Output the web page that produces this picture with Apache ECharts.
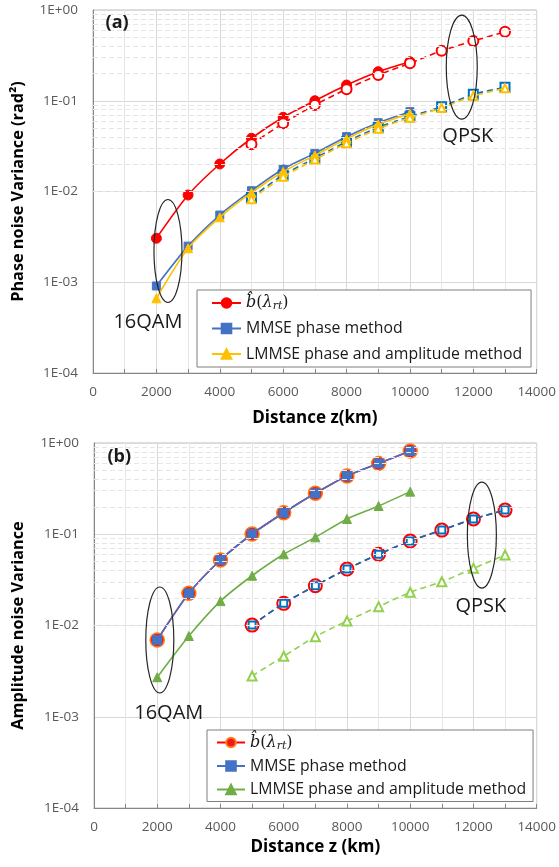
<!DOCTYPE html>
<html><head><meta charset="utf-8">
<script src="https://cdn.jsdelivr.net/npm/echarts@6/dist/echarts.min.js"></script>
<style>html,body{margin:0;padding:0;background:#fff}#c{width:559px;height:867px}</style>
</head><body><div id="c"></div>
<script>
// ---- data ----
const xQAM  = [2000,3000,4000,5000,6000,7000,8000,9000,10000];
const xQPSK = [5000,6000,7000,8000,9000,10000,11000,12000,13000];
const xTicks = [0,2000,4000,6000,8000,10000,12000,14000];
const yTickLabels = ['1E-04','1E-03','1E-02','1E-01','1E+00'];

// (a) phase noise variance
const phaseB_QAM      = [0.00305,0.00915,0.0201,0.0386,0.0657,0.100,0.149,0.209,0.269];
const phaseB_QPSK     = [0.0331,0.0564,0.0898,0.134,0.192,0.259,0.356,0.455,0.577];
const phaseMMSE_QAM   = [0.00091,0.0025,0.0055,0.0102,0.0177,0.0263,0.0402,0.0573,0.0758];
const phaseMMSE_QPSK  = [0.0086,0.0152,0.0232,0.0354,0.0509,0.0667,0.0860,0.1178,0.1406];
const phaseLMMSE_QAM  = [0.000665,0.00237,0.00519,0.0097,0.0165,0.0250,0.0380,0.0550,0.0720];
const phaseLMMSE_QPSK = [0.0082,0.0145,0.0225,0.0340,0.0490,0.0650,0.0830,0.1130,0.1370];

// (b) amplitude noise variance
const ampB_QAM      = [0.00694,0.0225,0.0522,0.1006,0.172,0.281,0.435,0.598,0.817];
const ampMMSE_QAM   = [0.00694,0.0225,0.0522,0.1006,0.172,0.281,0.435,0.598,0.817];
const ampLMMSE_QAM  = [0.00271,0.00767,0.0185,0.0351,0.0603,0.0925,0.147,0.204,0.293];
const ampB_QPSK     = [0.0101,0.0175,0.0273,0.0416,0.0603,0.0843,0.111,0.147,0.184];
const ampMMSE_QPSK  = [0.0101,0.0175,0.0273,0.0416,0.0603,0.0843,0.111,0.147,0.184];
const ampLMMSE_QPSK = [0.0028,0.0046,0.00755,0.0112,0.0161,0.0231,0.0302,0.0423,0.0593];

const legendNames = {
  bA:'bhat', mA:'MMSE phase method', lA:'LMMSE phase and amplitude method',
  bB:'bhat', mB:'MMSE phase method', lB:'LMMSE phase and amplitude method'
};

// ---- helpers ----
const pair = (xs, ys) => xs.map((x,i)=>[x, ys[i]]);
const minorVals = [];
for (let d=-4; d<0; d++) for (let k=2;k<=9;k++) minorVals.push(k*Math.pow(10,d));

const TXT = '#595959';
const FONT = 'Open Sans';

function xAxis(gi){
  return {
    type:'value', gridIndex:gi, min:0, max:14000, interval:2000,
    name: gi===0 ? 'Distance z(km)' : 'Distance z (km)',
    nameLocation:'middle', nameGap: gi===0 ? 37 : 31,
    nameTextStyle:{fontFamily:FONT, fontWeight:'bold', fontSize:17, color:'#000'},
    axisLine:{show:true, lineStyle:{color:'#868686', width:1}},
    axisTick:{show:true, inside:true, length:4, lineStyle:{color:'#868686'}},
    minorTick:{show:true, splitNumber:2, length:4, lineStyle:{color:'#868686'}},
    axisLabel:{fontFamily:FONT, fontSize:13.5, color:TXT, margin:12,
      formatter: v => xTicks.includes(v) ? String(v) : ''},
    splitLine:{show:true, lineStyle:{color:'#d9d9d9', width:1}},
    minorSplitLine:{show:true, lineStyle:{color:'#e6e6e6', width:1}}
  };
}
function yAxis(gi){
  return {
    type:'log', logBase:10, gridIndex:gi, min:1e-4, max:1,
    axisLine:{show:true, lineStyle:{color:'#868686', width:1}},
    axisTick:{show:false},
    axisLabel:{fontFamily:FONT, fontSize:13.5, color:TXT, margin:15,
      formatter: v => yTickLabels[Math.round(Math.log10(v))+4]},
    splitLine:{show:true, lineStyle:{color:'#d9d9d9', width:1}}
  };
}
function minorGrid(gi){
  return {
    type:'line', xAxisIndex:gi, yAxisIndex:gi, data:[], z:1, silent:true,
    markLine:{silent:true, symbol:['none','none'], label:{show:false}, animation:false,
      lineStyle:{color:'#e6e6e6', type:[5,3], width:1},
      emphasis:{disabled:true},
      data: minorVals.map(v=>({yAxis:v}))}
  };
}
function ser(name, gi, data, o){
  return {
    name, type:'line', xAxisIndex:gi, yAxisIndex:gi, data,
    smooth:0.25, symbol:o.symbol, symbolSize:o.size,
    lineStyle:{color:o.line, width:o.lw||1.6, type:o.dash?[6,4]:'solid'},
    itemStyle:{color:o.fill, borderColor:o.border||o.fill, borderWidth:o.bw||1},
    z:o.z||3, emphasis:{disabled:true}
  };
}

const RED='#ff0000', BLUE='#4472c4', BLUE2='#0070c0', YEL='#ffc000', GRN='#70ad47', GRN2='#92d050';

const series = [
  minorGrid(0), minorGrid(1),
  // (a)
  ser('bA',0,pair(xQAM,phaseB_QAM),{symbol:'circle',size:10,line:RED,fill:RED,z:3}),
  ser('bA_q',0,pair(xQPSK,phaseB_QPSK),{symbol:'emptyCircle',size:10,line:RED,fill:RED,border:RED,bw:1.6,dash:true,z:3}),
  ser('mA',0,pair(xQAM,phaseMMSE_QAM),{symbol:'rect',size:8,line:BLUE,fill:BLUE,z:4}),
  ser('mA_q',0,pair(xQPSK,phaseMMSE_QPSK),{symbol:'emptyRect',size:9,line:BLUE2,fill:BLUE2,border:BLUE2,bw:1.6,dash:true,z:4}),
  ser('lA',0,pair(xQAM,phaseLMMSE_QAM),{symbol:'triangle',size:9,line:YEL,fill:YEL,z:5}),
  ser('lA_q',0,pair(xQPSK,phaseLMMSE_QPSK),{symbol:'emptyTriangle',size:8,line:YEL,fill:YEL,border:YEL,bw:1.6,dash:true,z:5}),
  // (b)
  ser('bB',1,pair(xQAM,ampB_QAM),{symbol:'circle',size:14,line:RED,fill:'#f01818',border:'#ff7a1a',bw:1.5,z:3}),
  ser('bB_q',1,pair(xQPSK,ampB_QPSK),{symbol:'emptyCircle',size:13,line:RED,fill:RED,border:RED,bw:2,dash:true,z:3}),
  ser('mB',1,pair(xQAM,ampMMSE_QAM),{symbol:'rect',size:9,line:BLUE,fill:BLUE,z:4}),
  ser('mB_q',1,pair(xQPSK,ampMMSE_QPSK),{symbol:'emptyRect',size:7,line:BLUE2,fill:BLUE2,border:BLUE2,bw:1.5,dash:true,z:4}),
  ser('lB',1,pair(xQAM,ampLMMSE_QAM),{symbol:'triangle',size:9,line:GRN,fill:GRN,z:5}),
  ser('lB_q',1,pair(xQPSK,ampLMMSE_QPSK),{symbol:'emptyTriangle',size:9,line:GRN2,fill:GRN2,border:GRN2,bw:1.5,dash:true,z:5})
];

const richLegend = {
  n:{fontFamily:FONT, fontSize:15.8, color:'#1a1a1a', lineHeight:18},
  m:{fontFamily:'DejaVu Serif', fontStyle:'italic', fontSize:16, color:'#1a1a1a', lineHeight:18},
  u:{fontFamily:'DejaVu Serif', fontSize:16, color:'#1a1a1a', lineHeight:18},
  s:{fontFamily:'DejaVu Serif', fontStyle:'italic', fontSize:11, color:'#1a1a1a', lineHeight:12, verticalAlign:'bottom'}
};
const legendFmt = name => {
  const t = legendNames[name];
  if (t === 'bhat') return '{m|b\u0302}{u|(}{m|\u03bb}{s|rt}{u|)}';
  return '{n|' + t + '}';
};
function legend(gi){
  const top = gi===0;
  return {
    orient:'vertical', left: top?197:207, top: top?290:730,
    data: top?['bA','mA','lA']:['bB','mB','lB'],
    formatter: legendFmt, selectedMode:false,
    itemWidth: top?29:28, itemHeight:12, itemGap: top?7.5:5.5,
    padding: top?[4,9,4,14]:[3.5,7,3,9],
    borderColor:'#7f7f7f', borderWidth:1, backgroundColor:'#fff',
    textStyle:{fontFamily:FONT, fontSize:15.8, color:'#1a1a1a', lineHeight:18, rich:richLegend}
  };
}

const chart = echarts.init(document.getElementById('c'), null, {renderer:'canvas'});
chart.setOption({
  animation:false,
  backgroundColor:'#fff',
  grid:[
    {left:93, right:22, top:10, height:363, show:true, borderColor:'#bfbfbf', borderWidth:1, backgroundColor:'transparent'},
    {left:94, right:21, top:443, height:365, show:true, borderColor:'#bfbfbf', borderWidth:1, backgroundColor:'transparent'}
  ],
  xAxis:[xAxis(0), xAxis(1)],
  yAxis:[yAxis(0), yAxis(1)],
  legend:[legend(0), legend(1)],
  series
});

// ---- annotations anchored to data coordinates ----
const ellipses = [
  {g:0, at:[2365,2.21e-3], rx:14, ry:51.5},
  {g:0, at:[11635,0.235], rx:15.5, ry:52},
  {g:1, at:[2081,6.94e-3], rx:14, ry:53},
  {g:1, at:[12266,0.098], rx:14.5, ry:53}
];
const labels = [
  {g:0, at:[1734,3.58e-4], text:'16QAM'},
  {g:0, at:[11824,0.0402], text:'QPSK'},
  {g:1, at:[2365,1.1e-3], text:'16QAM'},
  {g:1, at:[12234,0.0164], text:'QPSK'}
];
const panels = [
  {g:0, at:[760,0.72], text:'(a)'},
  {g:1, at:[800,0.70], text:'(b)'}
];
const gfx = [];
ellipses.forEach(e=>{
  const p = chart.convertToPixel({gridIndex:e.g}, e.at);
  gfx.push({type:'ellipse', shape:{cx:p[0], cy:p[1], rx:e.rx, ry:e.ry}, silent:true, z:10,
    style:{fill:'none', stroke:'#262626', lineWidth:1.2}});
});
labels.forEach(l=>{
  const p = chart.convertToPixel({gridIndex:l.g}, l.at);
  gfx.push({type:'text', x:p[0], y:p[1], silent:true, z:10,
    style:{text:l.text, font:'20px "Open Sans"', fill:'#1a1a1a', textAlign:'center', textVerticalAlign:'middle', align:'center', verticalAlign:'middle'}});
});
panels.forEach(l=>{
  const p = chart.convertToPixel({gridIndex:l.g}, l.at);
  gfx.push({type:'text', x:p[0], y:p[1], silent:true, z:10,
    style:{text:l.text, font:'bold 18px "Open Sans"', fill:'#1a1a1a', textAlign:'center', textVerticalAlign:'middle', align:'center', verticalAlign:'middle'}});
});
// y-axis titles
const yTitles = [
  {g:0, text:'Phase noise Variance (rad\u00b2)'},
  {g:1, text:'Amplitude noise Variance'}
];
yTitles.forEach(t=>{
  const r = chart.getModel().getComponent('grid', t.g).coordinateSystem.getRect();
  gfx.push({type:'text', x:18, y:r.y + r.height/2, rotation:Math.PI/2, silent:true, z:10,
    style:{text:t.text, font:'bold 16.3px "Open Sans"', fill:'#000', textAlign:'center', textVerticalAlign:'middle', align:'center', verticalAlign:'middle'}});
});
chart.setOption({graphic:gfx});
</script>
</body></html>
